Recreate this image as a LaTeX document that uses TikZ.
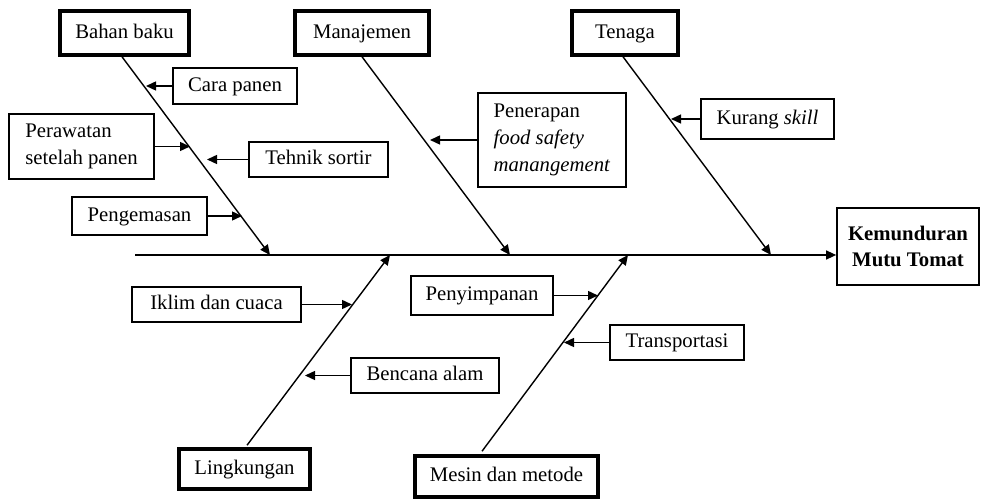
\documentclass[tikz,border=0pt]{standalone}
\usepackage{fontspec}
\setmainfont{Liberation Serif}
\usetikzlibrary{arrows.meta}

\begin{document}
\begin{tikzpicture}[x=0.02cm, y=-0.02cm]
  \tikzstyle{every node}=[font=\fontsize{11.8}{15.5}\selectfont]
  \tikzstyle{kotakbaris}=[draw, line width=0.8pt, inner sep=0pt]
  \tikzstyle{kotak}=[kotakbaris, minimum height=0.7cm, text height=1.75ex, text depth=0.45ex]
  \tikzstyle{utama}=[kotak, line width=2pt, minimum height=0.88cm]
  \tikzstyle{tulang}=[line width=0.8pt, -{Triangle[length=0.2cm, width=0.18cm]}]
  \tikzstyle{panah}=[line width=0.8pt, -{Triangle[length=0.2cm, width=0.18cm]}]

  \useasboundingbox (0, 0) rectangle (982, 499);

  \node[utama, minimum width=2.58cm] (bahan) at (124.5, 33) {Bahan baku};
  \node[utama, minimum width=2.68cm] (manaj) at (362, 33) {Manajemen};
  \node[utama, minimum width=2.12cm] (tenaga) at (625, 33) {Tenaga};
  \node[utama, minimum width=2.62cm, minimum height=0.8cm] (lingk) at (244.5, 469) {Lingkungan};
  \node[utama, minimum width=3.66cm, minimum height=0.82cm] (mesin) at (506.5, 476.5) {Mesin dan metode};

  \node[kotakbaris, line width=1pt, minimum width=2.84cm, minimum height=1.54cm, align=center,
    font=\fontsize{11.8}{15}\selectfont\bfseries] (hasil) at (908, 246.5) {Kemunduran\\Mutu Tomat};

  \coordinate (ekor) at (135, 255);
  \coordinate (s1) at (270, 255);
  \coordinate (s2) at (510, 255);
  \coordinate (s3) at (771, 255);
  \coordinate (s4) at (390, 255);
  \coordinate (s5) at (628, 255);

  \draw[panah] (ekor) -- (ekor -| hasil.west);

  \draw[tulang] ([xshift=-0.05cm]bahan.south) -- (s1);
  \draw[tulang] (manaj.south) -- (s2);
  \draw[tulang] ([xshift=-0.04cm]tenaga.south) -- (s3);
  \draw[tulang] ([xshift=0.05cm, yshift=0.04cm]lingk.north) -- (s4);
  \draw[tulang] ([xshift=-0.49cm, yshift=0.06cm]mesin.north) -- (s5);

  \node[kotak, minimum width=2.48cm, minimum height=0.72cm] (cara) at (235, 86) {Cara panen};
  \node[kotakbaris, minimum width=2.9cm, minimum height=1.3cm, align=left] (rawat) at (81.5, 146.5) {Perawatan\\setelah panen};
  \node[kotak, minimum width=2.78cm] (sortir) at (318.5, 159.5) {Tehnik sortir};
  \node[kotak, minimum width=2.7cm, minimum height=0.76cm] (kemas) at (139.5, 216) {Pengemasan};
  \node[kotakbaris, minimum width=2.96cm, minimum height=1.88cm, align=left] (terap) at (552, 140)
    {Penerapan\\\textit{food safety}\\\textit{manangement}};
  \node[kotak, minimum width=2.66cm, minimum height=0.8cm] (skill) at (767.5, 119) {Kurang \textit{skill}};

  \node[kotak, minimum width=3.38cm] (iklim) at (216.5, 304.5) {Iklim dan cuaca};
  \node[kotak, minimum width=2.96cm] (bencana) at (425, 375.5) {Bencana alam};
  \node[kotak, minimum width=2.84cm, minimum height=0.78cm] (simpan) at (482, 295.5) {Penyimpanan};
  \node[kotak, minimum width=2.68cm] (trans) at (677, 342.5) {Transportasi};

  \coordinate (tcara) at (146, 86);
  \coordinate (trawat) at (190, 146.5);
  \coordinate (tsortir) at (207, 159.5);
  \coordinate (tkemas) at (242, 216);
  \coordinate (tterap) at (430, 140);
  \coordinate (tskill) at (671, 119);
  \coordinate (tiklim) at (352, 304.5);
  \coordinate (tbencana) at (305, 375.5);
  \coordinate (tsimpan) at (598, 295.5);
  \coordinate (ttrans) at (564, 342.5);

  \draw[panah] (cara) -- (tcara);
  \draw[panah] (rawat) -- (trawat);
  \draw[panah] (sortir) -- (tsortir);
  \draw[panah] (kemas) -- (tkemas);
  \draw[panah] (terap) -- (tterap);
  \draw[panah] (skill) -- (tskill);
  \draw[panah] (iklim) -- (tiklim);
  \draw[panah] (bencana) -- (tbencana);
  \draw[panah] (simpan) -- (tsimpan);
  \draw[panah] (trans) -- (ttrans);

\end{tikzpicture}
\end{document}
